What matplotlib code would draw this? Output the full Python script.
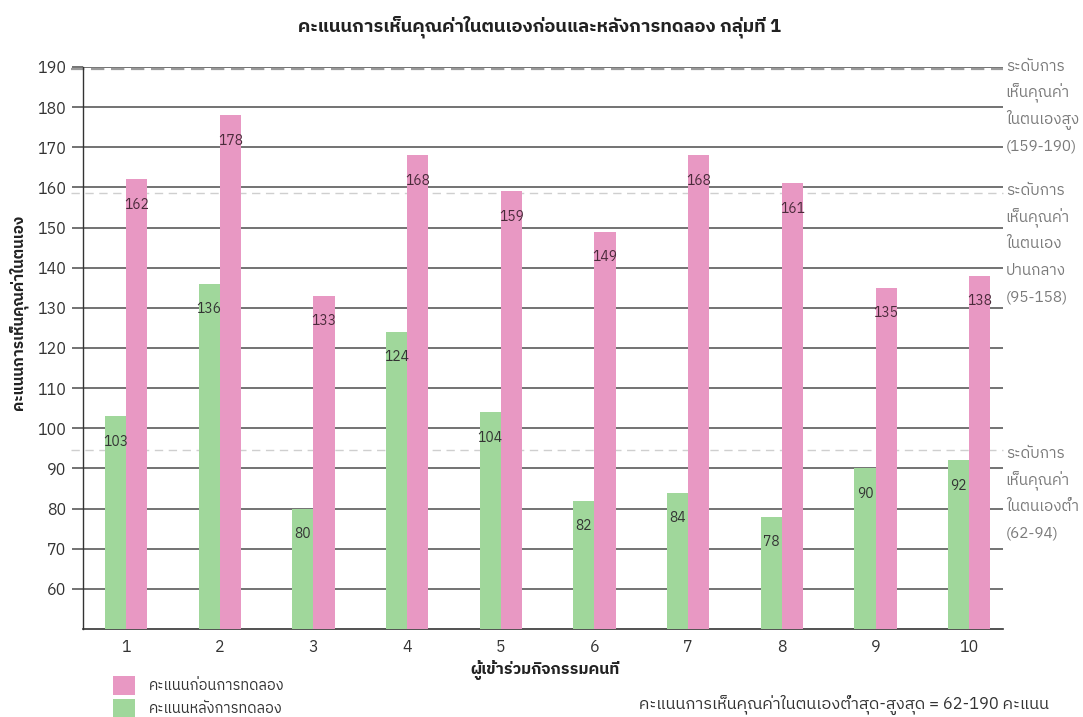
import matplotlib
matplotlib.use("Agg")
import matplotlib.pyplot as plt
from matplotlib import font_manager
import numpy as np

# --- DATA ---
participants = ["1", "2", "3", "4", "5", "6", "7", "8", "9", "10"]
before_scores = [162, 178, 133, 168, 159, 149, 168, 161, 135, 138]   # pink
after_scores = [103, 136, 80, 124, 104, 82, 84, 78, 90, 92]          # green
level_cuts = [189.5, 158.5, 94.5]
level_texts = [
    ["ระดับการ", "เห็นคุณค่า", "ในตนเองสูง", "(159-190)"],
    ["ระดับการ", "เห็นคุณค่า", "ในตนเอง", "ปานกลาง", "(95-158)"],
    ["ระดับการ", "เห็นคุณค่า", "ในตนเองต่ำ", "(62-94)"],
]
level_text_y = [190, 159, 93.5]

title = "คะแนนการเห็นคุณค่าในตนเองก่อนและหลังการทดลอง กลุ่มที่ 1"
xlabel = "ผู้เข้าร่วมกิจกรรมคนที่"
ylabel = "คะแนนการเห็นคุณค่าในตนเอง"
legend_before = "คะแนนก่อนการทดลอง"
legend_after = "คะแนนหลังการทดลอง"
note = "คะแนนการเห็นคุณค่าในตนเองต่ำสุด-สูงสุด = 62-190 คะแนน"


# --- FONT: look for something that has Thai glyphs ---
def find_thai_font():
    try:
        from fontTools.ttLib import TTFont
    except Exception:
        return None
    preferred = ["Thai", "Sarabun", "Tahoma", "Leelawadee", "Loma", "Garuda",
                 "Kinnari", "Norasi", "Tlwg", "Waree", "Umpush", "Laksaman"]
    found = []
    for f in font_manager.fontManager.ttflist:
        try:
            tt = TTFont(f.fname, fontNumber=0, lazy=True)
            cmap = tt.getBestCmap() or {}
            if 0x0E01 in cmap and 0x0E35 in cmap:
                found.append(f.name)
        except Exception:
            pass
    if not found:
        return None
    for p in preferred:
        for n in found:
            if p.lower() in n.lower():
                return n
    return found[0]


thai = find_thai_font()
families = ([thai] if thai else []) + ["DejaVu Sans"]
plt.rcParams["font.family"] = families

pink = "#e898c3"
green = "#a0d79b"
txt_gray = "#7a7a7a"

# --- PLOT ---
fig = plt.figure(figsize=(10.83, 7.17), dpi=100)
ax = fig.add_axes([0.0766, 0.1227, 0.8495, 0.7839])

x = np.arange(1, len(participants) + 1)
w = 0.225
b_after = ax.bar(x - w / 2, after_scores, w, color=green, zorder=3)
b_before = ax.bar(x + w / 2, before_scores, w, color=pink, zorder=3)

for xi, v in zip(x, after_scores):
    ax.text(xi - w / 2, v - 4.6, str(v), ha="center", va="top",
            fontsize=10, color="#333333", zorder=4)
for xi, v in zip(x, before_scores):
    ax.text(xi + w / 2, v - 4.6, str(v), ha="center", va="top",
            fontsize=10, color="#4a2a3a", zorder=4)

ax.set_ylim(50, 190)
ax.set_xlim(0.54, 10.36)
ax.set_yticks(np.arange(60, 191, 10))
ax.set_xticks(x)
ax.set_xticklabels(participants)
ax.tick_params(axis="y", length=8, width=1.2, color="#5a5a5a",
               labelsize=11.5, labelcolor="#333333", pad=4)
ax.tick_params(axis="x", length=0, labelsize=11.5, labelcolor="#333333", pad=7)

ax.grid(True, axis="y", color="#5a5a5a", linewidth=1.2, zorder=1)
ax.set_axisbelow(True)
for s in ["top", "right"]:
    ax.spines[s].set_visible(False)
ax.spines["left"].set_color("#333333")
ax.spines["bottom"].set_color("#333333")
ax.spines["left"].set_linewidth(1.0)
ax.spines["bottom"].set_linewidth(1.2)

# level boundaries (dashed)
ax.axhline(level_cuts[0], color="#9a9a9a", linestyle=(0, (6, 3)), linewidth=1.6,
           zorder=2, xmin=-0.013, clip_on=False)
for c in level_cuts[1:]:
    ax.axhline(c, color="#cfcfcf", linestyle=(0, (6, 4)), linewidth=1.0,
               zorder=2, xmin=-0.013, clip_on=False)

# right-side level notes
for lines, y0 in zip(level_texts, level_text_y):
    for i, t in enumerate(lines):
        ax.annotate(t, xy=(1.0, y0), xycoords=("axes fraction", "data"),
                    xytext=(2, -i * 26.5 * 0.72), textcoords="offset points",
                    ha="left", va="center", fontsize=11, color=txt_gray,
                    annotation_clip=False)

fig.text(0.498, 0.962, title, ha="center", va="center", fontsize=13.2,
         fontweight="bold", color="#222222")
fig.text(0.503, 0.066, xlabel, ha="center", va="center", fontsize=11.5,
         fontweight="bold", color="#222222")
fig.text(0.017, 0.565, ylabel, ha="center", va="center", rotation=90,
         fontsize=11, fontweight="bold", color="#222222")
fig.text(0.969, 0.017, note, ha="right", va="center", fontsize=11.8,
         color="#333333")

fig.legend([b_before, b_after], [legend_before, legend_after],
           loc="upper left", bbox_to_anchor=(0.098, 0.068),
           frameon=False, fontsize=10.5, handlelength=1.45, handleheight=1.65,
           labelspacing=0.3, handletextpad=1.0, borderpad=0.0,
           labelcolor="#333333")

fig.savefig("out.png", dpi=100)
